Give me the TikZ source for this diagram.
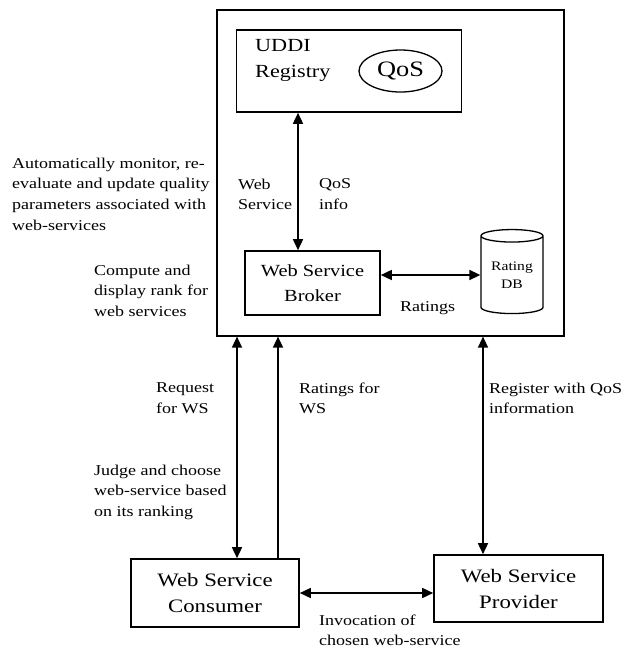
\documentclass[tikz,border=0pt]{standalone}
\usepackage{fontspec}
\setmainfont{Liberation Serif}[FakeStretch=1.2]
\usetikzlibrary{arrows.meta,shapes.geometric,positioning}

\begin{document}
\begin{tikzpicture}[x=1pt,y=-1pt,
    box/.style={draw, color=black, fill=none, line width=1.6pt, align=center, inner sep=0pt},
    lbl/.style={anchor=north west, align=left, inner sep=0pt, font=\fontsize{15}{20.7}\selectfont},
    dbl/.style={{Triangle[length=11pt,width=10pt]}-{Triangle[length=11pt,width=10pt]}, line width=1.5pt},
    one/.style={-{Triangle[length=11pt,width=10pt]}, line width=1.5pt}]
  \useasboundingbox (0,0) rectangle (633,649);
      \node[box, line width=1.2pt, minimum width=347pt, minimum height=326pt] (rank) at (390.5,173) {};
      \node[box, minimum width=225pt, minimum height=82pt] (uddi) at (349,71) {};
      \node[lbl, font=\fontsize{18.5}{26}\selectfont] (uddit) at (255,39) {UDDI\\Registry};
      \node[box, ellipse, line width=1.3pt, minimum width=83pt, minimum height=42pt,
            font=\fontsize{22}{26}\selectfont] (qos) at (400.5,71) {QoS};
      \node[box, minimum width=135pt, minimum height=64pt,
            font=\fontsize{17}{25}\selectfont] (brk) at (312.5,283) {Web Service\\Broker};
      \node[box, cylinder, shape border rotate=90, aspect=0.3, line width=1.3pt,
            minimum width=62pt, minimum height=84pt,
            font=\fontsize{13}{18}\selectfont] (db) at (512,275) {Rating\\DB};
      \node[box, minimum width=168pt, minimum height=68pt,
            font=\fontsize{19}{26}\selectfont] (cons) at (215,593) {Web Service\\Consumer};
      \node[box, minimum width=169pt, minimum height=67pt,
            font=\fontsize{19}{26}\selectfont] (prov) at (518.5,588.5) {Web Service\\Provider};
      \coordinate (qx) at (298,0);
      \coordinate (rqx) at (237,0);
      \coordinate (rtx) at (278,0);
      \coordinate (rgx) at (483,0);
        \draw[dbl] (uddi.south -| qx) -- (brk.north -| qx);
        \draw[dbl] (brk.east |- db.west) -- (db.west);
        \draw[dbl] (rank.south -| rqx) -- (cons.north -| rqx);
        \draw[one] (cons.north -| rtx) -- (rank.south -| rtx);
        \draw[dbl] (rank.south -| rgx) -- (prov.north -| rgx);
        \draw[dbl] (cons.east) -- (cons.east -| prov.west);
      \node[lbl] (mon) at (12,157.5) {Automatically monitor, re-\\evaluate and update quality\\parameters associated with\\web-services};
      \node[lbl] (cmp) at (94,264.5) {Compute and\\display rank for\\web services};
      \node[lbl] (wsl) at (238,178.5) {Web\\Service};
      \node[lbl] (qil) at (319,178.5) {QoS\\info};
      \node[lbl] (rtl) at (400,301.5) {Ratings};
      \node[lbl] (req) at (156,382.5) {Request\\for WS};
      \node[lbl] (rfw) at (299,382.5) {Ratings for\\WS};
      \node[lbl] (reg) at (489,382.5) {Register with QoS\\information};
      \node[lbl] (jdg) at (94,464.5) {Judge and choose\\web-service based\\on its ranking};
      \node[lbl] (inv) at (319,614.5) {Invocation of\\chosen web-service};
\end{tikzpicture}
\end{document}
